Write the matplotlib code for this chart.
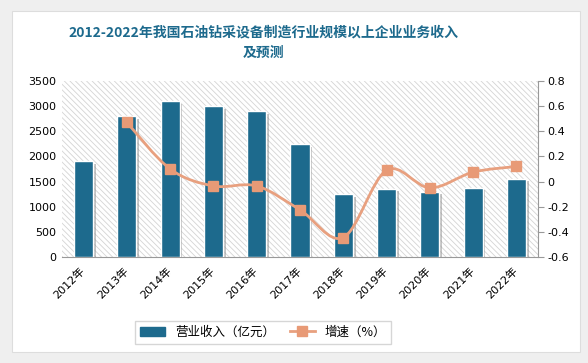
import matplotlib.pyplot as plt
import matplotlib.patheffects as pe
import matplotlib.transforms as mtransforms
from matplotlib.path import Path
from matplotlib.patches import PathPatch, Rectangle
from matplotlib.lines import Line2D
import numpy as np

plt.rcParams['font.family'] = ['DejaVu Sans', 'Noto Sans CJK SC']
plt.rcParams['hatch.linewidth'] = 0.6
plt.rcParams['hatch.color'] = '#d4d4d4'

years = ['2012年', '2013年', '2014年', '2015年', '2016年', '2017年',
         '2018年', '2019年', '2020年', '2021年', '2022年']
revenue = [1900, 2800, 3100, 3000, 2900, 2250, 1250, 1360, 1300, 1380, 1560]
growth_years = years[1:]
growth = [0.47, 0.10, -0.035, -0.035, -0.225, -0.445, 0.09, -0.05, 0.075, 0.12]

bar_color = '#1d6a8d'
line_color = '#e8a07f'
title_color = '#1d6a8d'

fig = plt.figure(figsize=(5.88, 3.63), dpi=100)
fig.patch.set_facecolor('#efefef')
# white panel behind everything
panel = Rectangle((12 / 588, 11 / 363), 568 / 588, 341 / 363,
                  transform=fig.transFigure, facecolor='white',
                  edgecolor='#dddddd', lw=0.8, zorder=-10)
fig.patches.append(panel)

ax = fig.add_axes([62 / 588, 1 - 257 / 363, 476 / 588, 176 / 363])
ax.patch.set_facecolor('white')
ax.patch.set_hatch('\\\\\\\\\\\\')
ax.patch.set_edgecolor('#d4d4d4')
ax.patch.set_linewidth(0)

x = np.arange(len(years))
bars = ax.bar(x, revenue, width=0.44, color=bar_color, edgecolor='white',
              linewidth=1.0, zorder=3)
for b in bars:
    b.set_path_effects([pe.SimplePatchShadow(offset=(2, -2), shadow_rgbFace='#888888', alpha=0.5),
                        pe.Normal()])

ax.set_xlim(-0.5, len(years) - 0.5)
ax.set_ylim(0, 3500)
ax.set_yticks(range(0, 3501, 500))
ax.set_xticks(x)
ax.set_xticklabels(years, rotation=45, ha='right', va='top', rotation_mode='anchor',
                   family=['DejaVu Sans', 'Noto Sans CJK SC'])
ax.tick_params(axis='x', length=0, labelsize=8, pad=6)
ax.tick_params(axis='y', length=0, labelsize=8, pad=4)
shift = mtransforms.ScaledTranslation(-4 / 100, 0, fig.dpi_scale_trans)
for lab in ax.get_xticklabels():
    lab.set_transform(lab.get_transform() + shift)
for s in ['top', 'left', 'right']:
    ax.spines[s].set_visible(False)
ax.spines['bottom'].set_color('#999999')

ax2 = ax.twinx()
ax2.set_ylim(-0.6, 0.8)
ax2.set_yticks([-0.6, -0.4, -0.2, 0, 0.2, 0.4, 0.6, 0.8])
ax2.set_yticklabels(['-0.6', '-0.4', '-0.2', '0', '0.2', '0.4', '0.6', '0.8'])
ax2.tick_params(axis='y', length=4, color='#999999', labelsize=8, pad=3)
for s in ['top', 'left', 'bottom']:
    ax2.spines[s].set_visible(False)
ax2.spines['right'].set_color('#999999')

# smooth line through the growth points (Catmull-Rom as cubic Bezier)
gx = x[1:].astype(float)
pts = np.column_stack([gx, growth])
verts = [tuple(pts[0])]
codes = [Path.MOVETO]
n = len(pts)
for i in range(n - 1):
    p0 = pts[max(i - 1, 0)]
    p1 = pts[i]
    p2 = pts[i + 1]
    p3 = pts[min(i + 2, n - 1)]
    c1 = p1 + (p2 - p0) / 6
    c2 = p2 - (p3 - p1) / 6
    verts += [tuple(c1), tuple(c2), tuple(p2)]
    codes += [Path.CURVE4] * 3
ax2.add_patch(PathPatch(Path(verts, codes), facecolor='none', edgecolor=line_color,
                        lw=2, zorder=4))
ax2.plot(gx, growth, ls='none', marker='s', ms=6.5, color='#e89a76', zorder=5)

fig.text(263 / 588, 1 - 33 / 363, '2012-2022年我国石油钻采设备制造行业规模以上企业业务收入',
         ha='center', va='center', fontsize=10, fontweight='bold', color=title_color,
         family=['Noto Sans CJK SC', 'DejaVu Sans'])
fig.text(263 / 588, 1 - 53 / 363, '及预测', ha='center', va='center', fontsize=10,
         fontweight='bold', color=title_color, family=['Noto Sans CJK SC', 'DejaVu Sans'])

handles = [Rectangle((0, 0), 1, 1, color=bar_color),
           Line2D([], [], color=line_color, lw=2, marker='s', ms=6.5,
                  markerfacecolor='#e89a76', markeredgecolor='#e89a76')]
leg = fig.legend(handles, ['营业收入（亿元）', '增速（%）'], loc='center',
                 bbox_to_anchor=(263 / 588, 1 - 332 / 363), ncol=2, frameon=True,
                 fancybox=False, edgecolor='#cccccc', handlelength=2.0,
                 columnspacing=1.2, borderpad=0.4,
                 prop={'family': ['Noto Sans CJK SC', 'DejaVu Sans'], 'size': 9})

fig.savefig('out.png', dpi=100, facecolor=fig.get_facecolor())
